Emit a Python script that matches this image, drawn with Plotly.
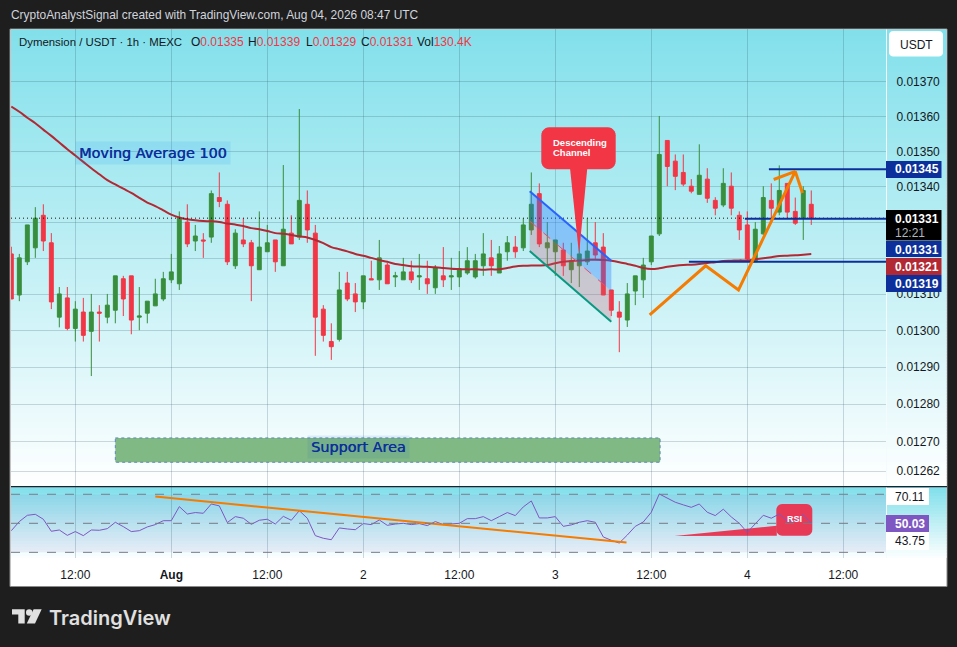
from datetime import datetime, timedelta
import math
import plotly.graph_objects as go

W, H = 957, 647
UNIT = 1e-5  # the price lists below are in units of 0.00001 USDT

# Hourly candles, Jul 31 2026 04:00 onward
opens = [1321.2,1309.8,1319.0,1322.9,1332.0,1324.3,1303.7,1309.0,1300.6,1305.1,1299.8,1305.1,1303.7,1305.6,1314.3,1315.1,1303.7,1304.8,1306.8,1308.7,
1314.0,1312.9,1330.1,1324.8,1325.1,1325.9,1337.0,1335.1,1317.9,1325.1,1324.3,1316.8,1321.8,1325.1,1317.9,1327.0,1325.9,1335.1,1327.0,1305.9,
1297.0,1297.6,1313.1,1310.1,1307.9,1314.3,1314.0,1318.1,1314.8,1314.0,1316.2,1314.8,1314.3,1311.8,1315.1,1314.8,1314.8,1315.9,1314.8,1317.9,
1320.1,1315.9,1321.8,1323.1,1322.9,1327.9,1338.1,1322.9,1321.8,1322.3,1316.8,1317.9,1319.0,1324.3,1323.1,1311.2,1305.1,1302.9,1310.9,1314.0,
1319.0,1326.8,1353.2,1347.3,1344.1,1340.2,1337.9,1342.2,1336.2,1334.9,1340.2,1332.0,1329.3,1319.0,1326.8,1336.2,1332.9,1341.0,1333.1,1331.2,1335.1]
highs = [1323.2,1321.2,1329.3,1334.3,1335.1,1327.0,1312.0,1312.0,1308.1,1309.0,1310.1,1307.0,1310.1,1315.1,1315.1,1315.1,1312.0,1308.1,1314.3,1316.2,
1321.2,1333.1,1335.1,1329.3,1327.0,1339.0,1344.1,1336.2,1328.1,1331.2,1325.1,1333.1,1329.3,1325.1,1346.2,1332.0,1362.2,1339.0,1329.3,1307.0,
1302.0,1316.2,1316.2,1313.1,1315.1,1319.3,1325.1,1318.7,1316.2,1320.1,1319.3,1321.2,1319.3,1318.1,1323.1,1320.1,1322.0,1323.1,1321.2,1327.0,
1325.1,1323.4,1326.2,1326.2,1331.2,1344.1,1341.0,1330.1,1325.1,1324.3,1324.3,1330.1,1331.2,1330.1,1327.0,1311.2,1308.1,1313.1,1315.1,1320.1,
1326.2,1360.2,1353.2,1349.2,1349.2,1342.2,1352.1,1345.3,1337.1,1345.3,1344.1,1333.1,1333.1,1330.1,1340.2,1341.0,1346.1,1341.0,1337.0,1340.2,1339.0]
lows = [1308.7,1308.1,1318.1,1320.1,1322.0,1305.9,1300.9,1300.1,1297.0,1297.0,1287.6,1297.0,1302.0,1302.0,1304.0,1299.0,1300.1,1302.0,1306.8,1308.1,
1313.1,1311.2,1323.1,1322.0,1320.1,1324.3,1334.3,1318.1,1317.0,1323.1,1308.1,1316.8,1321.8,1316.2,1317.9,1324.0,1325.1,1324.3,1293.1,1297.0,
1292.0,1297.0,1308.1,1305.1,1305.9,1314.0,1311.2,1312.9,1312.0,1314.0,1313.1,1311.2,1310.1,1310.1,1312.0,1311.2,1312.0,1315.4,1314.3,1315.1,
1315.1,1315.9,1319.3,1320.1,1322.0,1326.5,1323.1,1317.9,1315.1,1315.1,1313.1,1312.0,1318.1,1319.5,1309.8,1304.0,1294.1,1301.0,1307.0,1309.0,
1318.1,1326.2,1340.2,1339.1,1340.2,1338.2,1337.9,1335.5,1332.0,1334.3,1332.0,1325.1,1319.3,1319.0,1326.5,1331.2,1332.0,1331.2,1329.3,1325.1,1329.3]
closes = [1308.7,1320.1,1329.3,1331.2,1324.8,1307.9,1310.1,1300.6,1305.9,1298.7,1305.1,1304.8,1307.0,1315.1,1308.7,1302.9,1304.0,1308.1,1310.1,1314.3,
1316.2,1331.2,1324.0,1326.2,1324.8,1338.1,1335.9,1319.0,1327.0,1324.0,1317.9,1323.1,1324.3,1319.0,1328.1,1324.0,1336.2,1327.9,1303.7,1298.7,
1295.6,1311.2,1308.7,1307.9,1315.1,1314.0,1320.1,1312.9,1315.1,1316.2,1314.0,1315.1,1312.9,1317.3,1314.0,1315.1,1317.0,1319.3,1319.3,1321.2,
1317.9,1321.2,1324.3,1321.8,1329.3,1335.1,1324.0,1324.3,1325.1,1317.9,1319.3,1321.2,1322.0,1320.9,1309.8,1305.6,1303.7,1310.1,1315.1,1318.1,
1326.2,1349.2,1345.8,1343.0,1340.8,1338.8,1343.3,1336.8,1334.0,1341.0,1334.0,1327.9,1319.8,1328.1,1337.0,1334.0,1339.0,1332.9,1329.8,1339.0,1331.2]
ma100 = [1362.9,1361.4,1359.7,1358.1,1356.3,1354.5,1352.6,1350.7,1348.9,1347.1,1345.3,1343.6,1341.9,1340.7,1339.5,1338.3,1336.9,1335.6,1334.6,1333.4,
1332.2,1331.4,1330.9,1330.6,1330.4,1330.3,1330.1,1329.7,1329.4,1329.0,1328.4,1328.1,1327.6,1327.0,1326.8,1326.5,1326.1,1325.8,1325.1,1324.2,
1323.1,1322.5,1321.9,1321.2,1320.7,1320.1,1319.5,1319.0,1318.4,1318.1,1317.8,1317.7,1317.6,1317.5,1317.3,1317.1,1317.0,1316.9,1316.9,1316.8,
1316.9,1316.9,1317.3,1317.7,1317.9,1318.0,1318.0,1318.1,1318.6,1319.0,1319.2,1319.4,1319.5,1319.6,1319.5,1319.3,1318.9,1318.4,1317.9,1317.3,
1317.0,1317.2,1317.6,1317.9,1318.1,1318.2,1318.4,1318.7,1318.9,1319.2,1319.3,1319.4,1319.4,1319.7,1320.0,1320.3,1320.6,1320.7,1320.8,1321.0,1321.2]
rsi = [44.9,51.2,55.5,56.2,52.8,44.5,45.4,41.7,44.3,41.5,45.4,45.2,46.3,50.7,47.7,44.3,44.9,47.5,49.1,51.8,
51.8,61.5,56.4,57.4,56.9,63.3,62.0,50.5,54.6,53.5,49.3,52.1,52.8,49.5,54.8,52.1,58.7,53.5,41.5,39.7,
38.7,46.8,46.1,45.6,49.8,49.1,52.3,48.6,49.5,50.0,49.1,49.8,48.4,51.2,49.1,49.5,50.0,53.2,53.2,54.6,
51.8,54.6,57.4,55.3,61.3,65.4,53.7,53.7,54.6,47.9,48.9,50.7,51.8,50.7,40.6,38.3,36.4,41.9,47.9,50.9,
57.6,70.2,67.3,64.5,62.7,61.0,63.3,57.6,55.3,59.7,54.4,50.0,43.8,49.5,55.5,53.5,56.4,51.6,51.4,55.8,50.03]

price_ticks = [0.0137,0.0136,0.0135,0.0134,0.0133,0.0132,0.0131,0.0130,0.0129,0.0128,0.0127,0.01262]
# 0.01330 and 0.01320 sit fully behind the last-price badges, as in the reference
hidden_tick_labels = [0.0133,0.0132]
time_tick_hours = [8,20,32,44,56,68,80,92,104]
time_tick_text = ["12:00","<b>Aug</b>","12:00","2","12:00","3","12:00","4","12:00"]

# Drawings on the chart (hours since first candle, price units)
path_hours = [79.8,86.8,90.9,98.0,95.3]
path_prices = [1304.3,1317.9,1311.2,1344.4,1342.1]
path_tip_hours = [98.0,98.9]
path_tip_prices = [1344.4,1338.3]
chan_hours = [64.8,75.0]
chan_upper = [1338.8,1319.3]
chan_mid = [1330.4,1310.9]
chan_lower = [1322.0,1302.4]
support_hours = [13.0,81.1]
support_prices = [1270.9,1264.4]
levels = [(94.7,1345),(91.7,1331),(84.7,1319)]
rsi_trend_hours = [18.0,76.9]
rsi_trend_vals = [68.4,36.7]

START = datetime(2026,7,31,4,0)
def at(h):
    return (START + timedelta(hours=h)).strftime("%Y-%m-%d %H:%M:%S")
def prices(v):
    return [p*UNIT for p in v]
def px(x): return x/W
def py(y): return 1-y/H

times = [at(i) for i in range(len(opens))]
x_rng = [at(-0.04), at(109.34)]

BLUE = "#0C2F9B"; ORANGE = "#F57C00"; RED = "#F23645"; GREEN = "#388E3C"
GRID = "rgba(25,70,85,0.20)"
SANS = "Liberation Sans"

fig = go.Figure()
fig.add_trace(go.Candlestick(x=times, open=prices(opens), high=prices(highs), low=prices(lows), close=prices(closes),
    increasing=dict(line=dict(color=GREEN,width=1),fillcolor=GREEN),
    decreasing=dict(line=dict(color=RED,width=1),fillcolor=RED), whiskerwidth=0, xaxis="x", yaxis="y", showlegend=False, hoverinfo="skip"))
fig.add_trace(go.Scatter(x=times, y=prices(ma100), mode="lines", line=dict(color="#B22833",width=2,shape="spline"), xaxis="x", yaxis="y"))
# last-price dotted line
fig.add_trace(go.Scatter(x=x_rng, y=[closes[-1]*UNIT]*2, mode="lines", line=dict(color="#111",width=1,dash="1px,3px"), xaxis="x", yaxis="y"))
# support rectangle
sx = [at(support_hours[0]),at(support_hours[1]),at(support_hours[1]),at(support_hours[0]),at(support_hours[0])]
sy = prices([support_prices[0],support_prices[0],support_prices[1],support_prices[1],support_prices[0]])
fig.add_trace(go.Scatter(x=sx,y=sy,mode="lines",fill="toself",fillcolor="#81B985",line=dict(color="#5E86B8",width=1,dash="dot"),xaxis="x",yaxis="y"))
# channel fills and edges
cx = [at(h) for h in chan_hours]
fig.add_trace(go.Scatter(x=cx+cx[::-1],y=prices(chan_upper+chan_mid[::-1]),mode="none",fill="toself",fillcolor="rgba(41,121,255,0.36)",xaxis="x",yaxis="y"))
fig.add_trace(go.Scatter(x=cx+cx[::-1],y=prices(chan_mid+chan_lower[::-1]),mode="none",fill="toself",fillcolor="rgba(210,90,110,0.28)",xaxis="x",yaxis="y"))
fig.add_trace(go.Scatter(x=cx,y=prices(chan_upper),mode="lines",line=dict(color="#2962FF",width=2),xaxis="x",yaxis="y"))
fig.add_trace(go.Scatter(x=cx,y=prices(chan_mid),mode="lines",line=dict(color="#E8506A",width=1,dash="dash"),xaxis="x",yaxis="y"))
fig.add_trace(go.Scatter(x=cx,y=prices(chan_lower),mode="lines",line=dict(color="#089981",width=2),xaxis="x",yaxis="y"))
# support/resistance levels
for h,p in levels:
    fig.add_trace(go.Scatter(x=[at(h),x_rng[1]],y=[p*UNIT]*2,mode="lines",line=dict(color=BLUE,width=2),xaxis="x",yaxis="y"))
# orange path
fig.add_trace(go.Scatter(x=[at(h) for h in path_hours],y=prices(path_prices),mode="lines",line=dict(color=ORANGE,width=3),xaxis="x",yaxis="y"))
fig.add_trace(go.Scatter(x=[at(h) for h in path_tip_hours],y=prices(path_tip_prices),mode="lines",line=dict(color=ORANGE,width=3),xaxis="x",yaxis="y"))
# RSI pane
fig.add_trace(go.Scatter(x=times,y=rsi,mode="lines",line=dict(color="#7E57C2",width=1),xaxis="x2",yaxis="y2"))
fig.add_trace(go.Scatter(x=[at(h) for h in rsi_trend_hours],y=rsi_trend_vals,mode="lines",line=dict(color=ORANGE,width=2),xaxis="x2",yaxis="y2"))

# ---- decoration helpers
shapes = []
def rect(x0,y0,x1,y1,fill,line=None,layer="above",lw=1):
    shapes.append(dict(type="rect",xref="paper",yref="paper",x0=px(x0),x1=px(x1),y0=py(y0),y1=py(y1),
                       fillcolor=fill,line=dict(color=line or "rgba(0,0,0,0)",width=lw if line else 0),layer=layer))
def path(pts,fill,layer="above"):
    d = "M"+" L".join(f"{px(a):.5f},{py(b):.5f}" for a,b in pts)+" Z"
    shapes.append(dict(type="path",xref="paper",yref="paper",path=d,fillcolor=fill,line=dict(width=0),layer=layer))
def rounded(x0,y0,x1,y1,r):
    pts=[]
    for cx_,cy_,a0 in [(x1-r,y0+r,-90),(x1-r,y1-r,0),(x0+r,y1-r,90),(x0+r,y0+r,180)]:
        for k in range(7):
            a=math.radians(a0+15*k)
            pts.append((cx_+r*math.cos(a),cy_+r*math.sin(a)))
    return pts
def gradient(y0,y1,c0,c1,x0=11,x1=946.5,step=3):
    y=y0
    while y<y1:
        t=(y-y0)/(y1-y0)
        c=tuple(round(a+(b-a)*t) for a,b in zip(c0,c1))
        rect(x0,y,x1,min(y+step+0.6,y1),f"rgb{c}",layer="below")
        y+=step

anns = []
def label(x,y,text,color="#131722",size=12,family=SANS,anchor="left",pad=0,shadow=None,**kw):
    font=dict(color=color,size=size,family=family)
    if shadow: font["shadow"]=shadow
    anns.append(dict(xref="paper",yref="paper",x=px(x),y=py(y),text=text,showarrow=False,xanchor=anchor,yanchor="middle",
                     font=font,borderpad=pad,align="left",**kw))

# frame + backgrounds
rect(10,29,947,586.5,"#FFFFFF",line="#8A8A8A",layer="below")
gradient(29.5,486,(130,224,235),(255,255,255))
gradient(487,558,(130,224,235),(255,255,255))
rect(11,494.4,886,552.3,"rgba(126,87,194,0.09)",layer="below")
# RSI callout (under the RSI line)
path(rounded(776.3,504,812.3,535.7,6),"#E63A57",layer="below")
path([(674.3,536),(776.8,525.7),(776.8,535.7)],"#E63A57",layer="below")
# separators
rect(886,29.5,887,558,"#F4FBFC",layer="above")
rect(11,486,947,487.2,"#1E222D",layer="above")
for level in (70,50,30):
    shapes.append(dict(type="line",xref="x2 domain",yref="y2",x0=0,x1=1,y0=level,y1=level,layer="above",
                       line=dict(color="#787B86",width=1,dash="dash")))
# USDT button
path(rounded(889,31,943,56.5,4),"#FFFFFF")
label(916,45,"USDT",anchor="center")
# price badges
for y0,y1,c,t,ty in [(161,178,BLUE,"0.01345",169.5),(241,257,BLUE,"0.01331",249.5),(258,275,"#B22833","0.01321",266.5),(275,292,BLUE,"0.01319",283.5)]:
    rect(886,y0,941.5,y1,c)
    label(894,ty,f"<b>{t}</b>",color="#FFFFFF")
rect(886,210,941.5,240.5,"#000000")
label(894,218.8,"<b>0.01331</b>",color="#FFFFFF")
label(894,232.8,"12:21",color="#B2B5BE")
# RSI axis labels
rect(886,488,929,505,"#FFFFFF"); label(894,496.5,"70.11")
rect(886,532,929,550,"#FFFFFF"); label(894,541,"43.75")
rect(886,515,929,532,"#7E57C2"); label(894,523.5,"<b>50.03</b>",color="#FFFFFF")
# "Descending Channel" callout
path(rounded(541.3,127.3,615.7,169.3,8),RED)
path([(570,168),(587.3,168),(579,254)],RED)
label(552,142.7,"<b>Descending</b>",color="#FFFFFF",size=9.5)
label(552,152.5,"<b>Channel</b>",color="#FFFFFF",size=9.5)
label(794,519,"<b>RSI</b>",color="#FFFFFF",size=9,anchor="center")
# text notes
THICK = "0.4px 0 0 #0C2F9B"
label(75,152.7,"Moving Average 100",color=BLUE,size=14.4,family="DejaVu Sans",pad=3,shadow=THICK,bgcolor="rgba(33,150,243,0.14)")
label(307,447,"Support Area",color=BLUE,size=14.4,family="DejaVu Sans",pad=3,shadow=THICK,bgcolor="rgba(33,100,200,0.10)")
# header
label(10,15,"CryptoAnalystSignal created with TradingView.com, Aug 04, 2026 08:47 UTC",color="#D1D4DC",size=11.95)
label(18,41.5,"Dymension / USDT · 1h · MEXC",size=11.4)
for x,k,v in [(190,"O","0.01335"),(247,"H","0.01339"),(305,"L","0.01329"),(360,"C","0.01331"),(416,"Vol","130.4K")]:
    label(x,41.5,f"{k}<span style='color:{RED}'>{v}</span>")
# TradingView logo
LOGO="#E0E0E0"
path([(12,609.3),(24.7,609.3),(24.7,623.5),(18.3,623.5),(18.3,614.6),(12,614.6)],LOGO)
shapes.append(dict(type="circle",xref="paper",yref="paper",x0=px(26),x1=px(32.4),y0=py(609.3),y1=py(615.7),fillcolor=LOGO,line=dict(width=0)))
path([(33.6,609.3),(41.7,609.3),(35,623.5),(26.8,623.5)],LOGO)
anns.append(dict(xref="paper",yref="paper",x=px(48),y=py(617.5),text="TradingView",showarrow=False,xanchor="left",yanchor="middle",
                 font=dict(color=LOGO,size=20,family="Inter",weight=600),borderpad=0))

Y_RANGE = [-1.90029,-1.85843]
fig.update_layout(
    width=W,height=H,autosize=False,margin=dict(l=0,r=0,t=0,b=0),
    paper_bgcolor="#1E1E1E",plot_bgcolor="rgba(0,0,0,0)",showlegend=False,hovermode=False,boxgap=0.3,
    xaxis=dict(domain=[px(11),px(886)],range=x_rng,type="date",rangeslider=dict(visible=False),tickmode="array",
               tickvals=[at(h) for h in time_tick_hours],showticklabels=False,ticks="",showgrid=True,gridcolor=GRID,gridwidth=1,zeroline=False,anchor="y",showline=False),
    yaxis=dict(domain=[py(486),py(29)],type="log",range=Y_RANGE,side="right",tickmode="array",tickvals=price_ticks,
               ticktext=["" if v in hidden_tick_labels else f"{v:.5f}" for v in price_ticks],ticks="outside",ticklen=7,tickcolor="rgba(0,0,0,0)",
               tickfont=dict(family=SANS,size=12,color="#131722"),showgrid=True,gridcolor=GRID,gridwidth=1,zeroline=False,anchor="x",showline=False),
    xaxis2=dict(domain=[px(11),px(886)],range=x_rng,type="date",tickmode="array",tickvals=[at(h) for h in time_tick_hours],ticktext=time_tick_text,
                ticks="outside",ticklen=6,tickcolor="rgba(0,0,0,0)",tickfont=dict(family=SANS,size=12,color="#131722"),
                showgrid=True,gridcolor=GRID,gridwidth=1,zeroline=False,anchor="y2",showline=False),
    yaxis2=dict(domain=[py(558),py(487)],range=[26.1,75.0],showticklabels=False,ticks="",showgrid=False,zeroline=False,anchor="x2",side="right"),
    shapes=shapes,annotations=anns)
fig.write_html("out.html",config=dict(displayModeBar=False),post_script="document.body.style.margin='0';document.body.style.overflow='hidden';document.body.style.background='#1E1E1E';")
